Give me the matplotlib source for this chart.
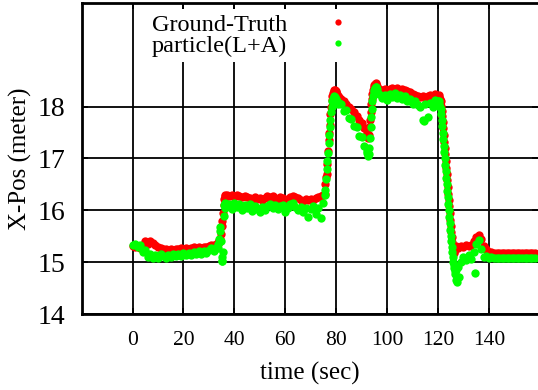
import numpy as np
import matplotlib
matplotlib.use("Agg")
import matplotlib.pyplot as plt

plt.rcParams['font.family'] = ['Liberation Serif', 'DejaVu Serif']

# ---- sample times (sec), per segment ----
t_a = np.arange(0, 34, 1.0)            # 34
t_b = np.arange(33.5, 37.01, 0.25)     # 15
t_c = np.arange(38, 76, 1.0)           # 38
t_d = np.arange(75.5, 81.01, 0.25)     # 23
t_e = np.arange(82, 93, 1.0)           # 11
t_f = np.arange(92.25, 96.01, 0.25)    # 16
t_g = np.arange(97, 121, 1.0)          # 24
t_h = np.arange(120.2, 127.01, 0.2)    # 35
t_i = np.arange(128, 159, 1.0)         # 31

# ---- Ground-Truth X position (meter) ----
gt_a = [15.32, 15.30, 15.31, 15.28, 15.33, 15.40, 15.36, 15.41, 15.37, 15.33,
        15.30, 15.27, 15.25, 15.26, 15.24, 15.25, 15.23, 15.26, 15.25, 15.27,
        15.26, 15.28, 15.26, 15.27, 15.29, 15.27, 15.29, 15.28, 15.30, 15.29,
        15.31, 15.33, 15.34, 15.36]
gt_b = [15.36, 15.38, 15.40, 15.42, 15.45, 15.55, 15.70, 15.80, 15.95, 16.10,
        16.22, 16.28, 16.30, 16.27, 16.30]
gt_c = [16.27, 16.29, 16.26, 16.30, 16.27, 16.25, 16.28, 16.26, 16.24, 16.22,
        16.25, 16.21, 16.23, 16.20, 16.24, 16.27, 16.25, 16.28, 16.24, 16.22,
        16.25, 16.23, 16.20, 16.22, 16.25, 16.28, 16.26, 16.23, 16.20, 16.18,
        16.21, 16.19, 16.22, 16.20, 16.23, 16.25, 16.27, 16.30]
gt_d = [16.32, 16.50, 16.65, 16.70, 16.90, 17.15, 17.35, 17.50, 17.65, 17.85,
        18.00, 18.12, 18.20, 18.26, 18.30, 18.32, 18.33, 18.30, 18.28, 18.25,
        18.23, 18.20, 18.18]
gt_e = [18.15, 18.10, 18.05, 18.00, 17.95, 17.90, 17.82, 17.75, 17.68, 17.58,
        17.50]
gt_f = [17.45, 17.40, 17.45, 17.60, 17.75, 17.90, 18.05, 18.15, 18.25, 18.32,
        18.38, 18.42, 18.44, 18.45, 18.43, 18.40]
gt_g = [18.35, 18.32, 18.34, 18.33, 18.35, 18.36, 18.34, 18.36, 18.33, 18.35,
        18.32, 18.30, 18.28, 18.25, 18.22, 18.20, 18.18, 18.20, 18.17, 18.20,
        18.22, 18.18, 18.24, 18.15]
gt_h = [18.20, 18.18, 18.22, 18.15, 18.10, 18.02, 17.92, 17.82, 17.70, 17.58,
        17.45, 17.32, 17.20, 17.08, 16.95, 16.82, 16.70, 16.58, 16.45, 16.32,
        16.20, 16.08, 15.95, 15.82, 15.70, 15.58, 15.48, 15.38, 15.30, 15.22,
        15.18, 15.20, 15.25, 15.30, 15.32]
gt_i = [15.28, 15.32, 15.30, 15.33, 15.31, 15.34, 15.40, 15.48, 15.52, 15.45,
        15.32, 15.25, 15.20, 15.19, 15.18, 15.18, 15.18, 15.18, 15.18, 15.18,
        15.18, 15.18, 15.18, 15.18, 15.18, 15.18, 15.18, 15.18, 15.18, 15.18,
        15.18]

# ---- particle(L+A) X position (meter) ----
pf_a = [15.33, 15.36, 15.30, 15.34, 15.20, 15.24, 15.10, 15.16, 15.08, 15.14,
        15.09, 15.15, 15.11, 15.08, 15.14, 15.10, 15.15, 15.12, 15.16, 15.12,
        15.17, 15.13, 15.18, 15.14, 15.19, 15.15, 15.21, 15.16, 15.22, 15.18,
        15.24, 15.27, 15.21, 15.30]
pf_b = [15.28, 15.35, 15.45, 15.60, 15.68, 15.40, 15.10, 15.03, 15.20, 15.90,
        16.10, 16.15, 16.05, 16.12, 16.08]
pf_c = [16.13, 16.03, 16.15, 16.06, 16.12, 16.00, 16.10, 16.04, 16.12, 15.98,
        16.08, 16.02, 15.96, 16.06, 16.00, 16.08, 16.12, 16.04, 16.10, 16.02,
        16.08, 16.11, 15.96, 16.05, 16.12, 16.15, 16.07, 16.00, 16.06, 15.96,
        16.04, 15.88, 16.02, 16.09, 15.93, 16.05, 15.86, 16.15]
pf_d = [16.40, 16.30, 16.60, 16.80, 16.95, 17.10, 17.30, 17.45, 17.60, 17.75,
        17.90, 18.00, 18.10, 18.15, 18.18, 18.20, 18.18, 18.15, 18.12, 18.10,
        18.08, 18.05, 18.08]
pf_e = [18.05, 17.92, 17.94, 17.78, 17.76, 17.62, 17.60, 17.44, 17.42, 17.24,
        17.15]
pf_f = [17.10, 17.05, 17.08, 17.20, 17.40, 17.60, 17.80, 17.95, 18.10, 18.20,
        18.28, 18.33, 18.36, 18.38, 18.37, 18.35]
pf_g = [18.25, 18.16, 18.23, 18.13, 18.24, 18.18, 18.26, 18.16, 18.22, 18.14,
        18.20, 18.10, 18.15, 18.06, 18.10, 18.03, 18.00, 17.75, 18.05, 17.80,
        18.08, 18.00, 18.12, 18.05]
pf_h = [18.10, 18.05, 18.10, 18.00, 17.95, 17.85, 17.75, 17.62, 17.50, 17.38,
        17.25, 17.12, 17.00, 16.88, 16.75, 16.62, 16.50, 16.38, 16.25, 16.12,
        16.00, 15.88, 15.75, 15.62, 15.50, 15.40, 15.30, 15.20, 15.10, 15.00,
        14.95, 14.88, 14.82, 14.78, 14.85]
pf_i = [14.90, 15.00, 15.10, 15.04, 15.14, 15.06, 15.20, 15.35, 15.42, 15.25,
        15.10, 15.12, 15.08, 15.10, 15.09, 15.08, 15.08, 15.08, 15.08, 15.08,
        15.08, 15.08, 15.08, 15.08, 15.08, 15.08, 15.08, 15.08, 15.08, 15.08,
        15.08]
# isolated particle outliers
pf_out_t = [35.1, 114.5, 126.9, 127.5, 128.3, 134.6]
pf_out_v = [15.02, 17.72, 14.65, 14.62, 14.72, 14.80]

x_ticks = [0, 20, 40, 60, 80, 100, 120, 140]
y_ticks = [14, 15, 16, 17, 18]

time = np.concatenate([t_a, t_b, t_c, t_d, t_e, t_f, t_g, t_h, t_i])
gt = np.concatenate([gt_a, gt_b, gt_c, gt_d, gt_e, gt_f, gt_g, gt_h, gt_i])
pf = np.concatenate([pf_a, pf_b, pf_c, pf_d, pf_e, pf_f, pf_g, pf_h, pf_i])
pf_time = np.concatenate([time, pf_out_t])
pf = np.concatenate([pf, pf_out_v])

fig = plt.figure(figsize=(5.38, 3.90), dpi=100)
ax = fig.add_axes([81.6 / 538, 76 / 390, 456.4 / 538, 311 / 390])

ms = 6.0
ax.plot(time, gt, linestyle='none', marker='o', ms=ms, mew=0,
        color='#ff0000', label='Ground-Truth', zorder=3)
ax.plot(pf_time, pf, linestyle='none', marker='o', ms=ms, mew=0,
        color='#00ff00', label='particle(L+A)', zorder=4)

ax.set_xlim(-20, 159.3)
ax.set_ylim(14, 20)
ax.set_xticks(x_ticks)
ax.set_yticks(y_ticks)
ax.grid(True, color='black', linewidth=1.3)
ax.set_axisbelow(True)

for s in ['left', 'top', 'bottom']:
    ax.spines[s].set_linewidth(2.0)
ax.spines['right'].set_visible(False)

ax.tick_params(axis='both', direction='in', length=4, width=1.3,
               top=True, right=True)
ax.tick_params(axis='x', labelsize=15.5, pad=12)
ax.tick_params(axis='y', labelsize=20, pad=12)

ax.set_xlabel('time (sec)', fontsize=18, labelpad=9)
ax.set_ylabel('X-Pos (meter)', fontsize=18, labelpad=4)

leg = ax.legend(loc='upper left', bbox_to_anchor=((147 - 81.6) / 456.4, 1 - 6 / 311),
                markerfirst=False, fontsize=17.5, frameon=True, fancybox=False,
                framealpha=1, borderpad=0.2, labelspacing=-0.05,
                handlelength=0.8, handletextpad=1.7, borderaxespad=0,
                markerscale=0.75)
leg.get_frame().set_edgecolor('none')
leg.get_frame().set_facecolor('white')

fig.savefig('out.png', dpi=100)
